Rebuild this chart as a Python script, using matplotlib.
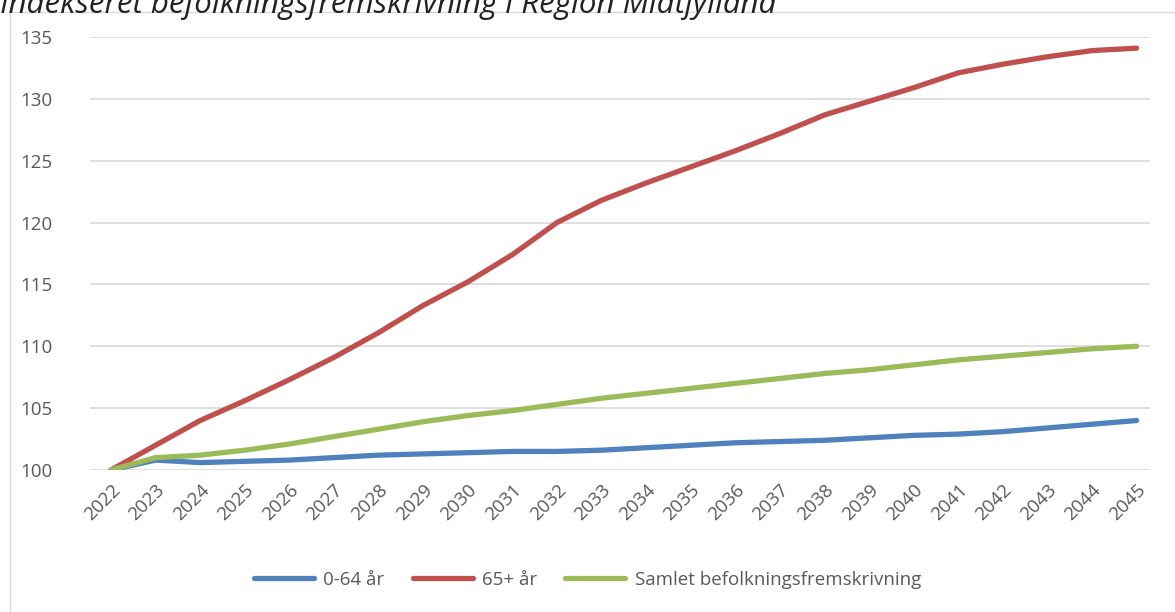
import matplotlib
matplotlib.use('Agg')
import matplotlib.pyplot as plt
from matplotlib.patches import Rectangle

# data
years = list(range(2022, 2046))
age_0_64 = [100.0, 100.8, 100.6, 100.7, 100.8, 101.0, 101.2, 101.3, 101.4, 101.5,
            101.5, 101.6, 101.8, 102.0, 102.2, 102.3, 102.4, 102.6, 102.8, 102.9,
            103.1, 103.4, 103.7, 104.0]
age_65 = [100.0, 102.0, 104.0, 105.6, 107.3, 109.1, 111.1, 113.3, 115.2, 117.4,
          120.0, 121.8, 123.2, 124.5, 125.8, 127.2, 128.7, 129.8, 130.9, 132.1,
          132.8, 133.4, 133.9, 134.1]
samlet = [100.0, 101.0, 101.2, 101.6, 102.1, 102.7, 103.3, 103.9, 104.4, 104.8,
          105.3, 105.8, 106.2, 106.6, 107.0, 107.4, 107.8, 108.1, 108.5, 108.9,
          109.2, 109.5, 109.8, 110.0]
labels = ['0-64 år', '65+ år', 'Samlet befolkningsfremskrivning']
colors = ['#4F81BD', '#C0504D', '#9BBB59']
title = 'Indekseret befolkningsfremskrivning i Region Midtjylland'

plt.rcParams['font.family'] = ['Open Sans', 'DejaVu Sans']
txt = '#595959'

fig = plt.figure(figsize=(11.75, 6.12), dpi=100)
fig.patches.append(Rectangle((10 / 1175, -0.01), 1.0, 1 - 12 / 612 + 0.01,
                             transform=fig.transFigure, fill=False,
                             edgecolor='#D9D9D9', linewidth=1))
fig.text(0.0, 1 - 4 / 612, title, fontsize=22.5, style='italic', color='#222222',
         ha='left', va='center')

ax = fig.add_axes([90 / 1175, 1 - 470 / 612, (1150 - 90) / 1175, (470 - 37) / 612])
x = list(range(len(years)))
for series, lab, col in zip([age_0_64, age_65, samlet], labels, colors):
    ax.plot(x, series, color=col, linewidth=3.8, label=lab, solid_capstyle='round')

ax.set_ylim(100, 135)
ax.set_yticks(range(100, 136, 5))
ax.set_xlim(-0.47, len(years) - 1 + 0.3)
ax.set_xticks(x)
ax.set_xticklabels([str(y) for y in years], rotation=45, ha='right',
                   rotation_mode='anchor')
ax.tick_params(axis='both', length=0, labelsize=13.5, colors=txt)
ax.tick_params(axis='x', pad=8)
ax.tick_params(axis='y', pad=27)
ax.grid(axis='y', color='#D9D9D9', linewidth=1.2)
ax.set_axisbelow(True)
for s in ax.spines.values():
    s.set_visible(False)

fig.legend(loc='center', bbox_to_anchor=(0.5, 1 - 580 / 612), ncol=3,
           frameon=False, fontsize=13.5, labelcolor=txt, handlelength=3.2,
           columnspacing=1.5, handletextpad=0.5)

fig.savefig('out.png', dpi=100)
